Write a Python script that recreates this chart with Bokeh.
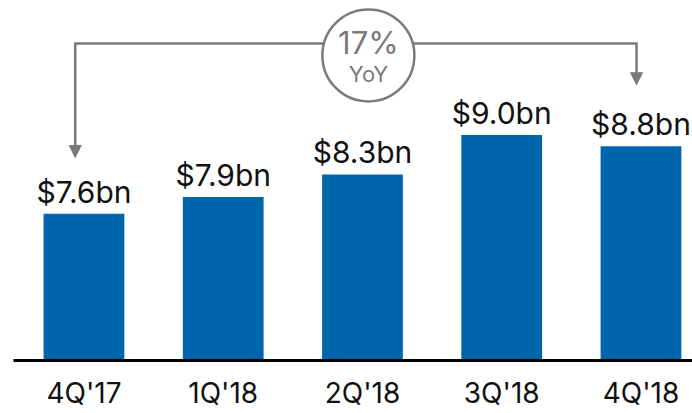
from bokeh.plotting import figure
from bokeh.models import Range1d, FixedTicker, Arrow, NormalHead, ColumnDataSource
from bokeh.core.properties import value
from bokeh.embed import file_html
from bokeh.resources import INLINE

# ---- data ----
quarters = ["4Q'17", "1Q'18", "2Q'18", "3Q'18", "4Q'18"]
revenue_bn = [7.6, 7.9, 8.3, 9.0, 8.8]
value_labels = ["$7.6bn", "$7.9bn", "$8.3bn", "$9.0bn", "$8.8bn"]
yoy_label = "17%"
yoy_sub = "YoY"
axis_base = 5.0

# ---- style ----
BLUE = "#0066ab"
GRAY = "#7a7a7a"
FONT = "Inter"

xs = list(range(len(quarters)))

p = figure(width=692, height=413, output_backend="svg", toolbar_location=None,
           x_range=Range1d(-0.506, 4.37), y_range=Range1d(axis_base, 11.383),
           y_axis_location=None, min_border_left=13, min_border_right=0,
           min_border_top=0, min_border_bottom=53)
p.outline_line_color = None
p.xgrid.visible = False
p.ygrid.visible = False
p.background_fill_color = "white"
p.border_fill_color = "white"

src = ColumnDataSource(dict(x=xs, top=revenue_bn, label=value_labels))
p.vbar(x="x", top="top", bottom=axis_base, width=0.58, source=src,
       fill_color=BLUE, line_color=None)
p.text(x="x", y="top", text="label", source=src, y_offset=-22,
       text_align="center", text_baseline="alphabetic",
       text_font=value(FONT), text_font_size="30px", text_color="#111111")

# x axis
ax = p.xaxis[0]
ax.ticker = FixedTicker(ticks=xs)
ax.major_label_overrides = {i: q for i, q in zip(xs, quarters)}
ax.major_tick_line_color = None
ax.minor_tick_line_color = None
ax.major_tick_out = 0
ax.major_tick_in = 0
ax.minor_tick_out = 0
ax.minor_tick_in = 0
ax.axis_line_color = "black"
ax.axis_line_width = 3
ax.major_label_text_font = FONT
ax.major_label_text_font_size = "28px"
ax.major_label_text_color = "#111111"
ax.major_label_standoff = 15

# YoY bracket
first, last = 0, len(quarters) - 1
top_y = max(revenue_bn) + 1.62
x0 = first - 0.063
x1 = last - 0.032
tip0 = revenue_bn[first] + 1.0
tip1 = revenue_bn[last] + 1.09
p.line([x0, x1], [top_y, top_y], line_color=GRAY, line_width=2.5)
for xa, tip in ((x0, tip0), (x1, tip1)):
    p.add_layout(Arrow(end=NormalHead(size=12, fill_color=GRAY, line_color=GRAY),
                       x_start=xa, y_start=top_y + 0.02, x_end=xa, y_end=tip,
                       line_color=GRAY, line_width=2.5))
cx = (x0 + x1) / 2 + 0.09
cy = top_y - 0.21
p.scatter([cx], [cy], marker="circle", size=92, fill_color="white",
          line_color=GRAY, line_width=2.5)
p.text([cx], [cy], text=[yoy_label], y_offset=-13, text_align="center",
       text_baseline="alphabetic", text_font=value(FONT),
       text_font_size="31px", text_color=GRAY)
p.text([cx], [cy], text=[yoy_sub], y_offset=19, text_align="center",
       text_baseline="alphabetic", text_font=value(FONT),
       text_font_size="22px", text_color=GRAY)

open("out.html", "w").write(file_html(p, INLINE))
